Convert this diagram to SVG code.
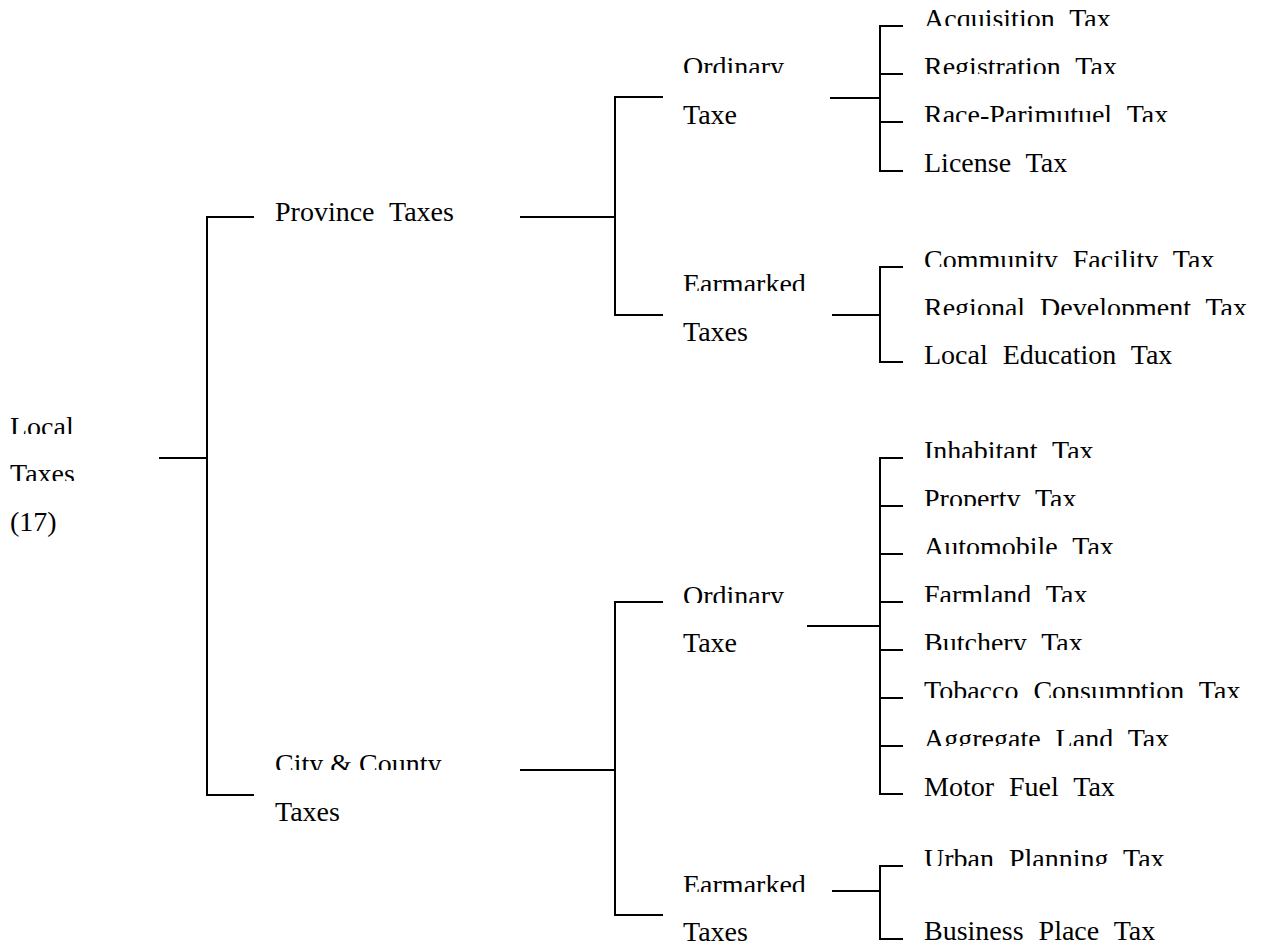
<svg xmlns="http://www.w3.org/2000/svg" width="1268" height="947" viewBox="0 0 1268 947">
<style>
text{font-family:"Liberation Serif","Times New Roman",serif;font-size:28px;fill:#000}
.w{word-spacing:8px}
.c line{stroke:#000;stroke-width:2;fill:none}
</style>
<defs>
<clipPath id="clp" clipPathUnits="userSpaceOnUse">
<rect x="0" y="408" width="150" height="26"/>
<rect x="0" y="455" width="150" height="26"/>
<rect x="265" y="745" width="240" height="25"/>
<rect x="675" y="48" width="140" height="25"/>
<rect x="675" y="265" width="140" height="26"/>
<rect x="675" y="577" width="140" height="26"/>
<rect x="675" y="867" width="140" height="25"/>
<rect x="915" y="0" width="353" height="26"/>
<rect x="915" y="48" width="353" height="26"/>
<rect x="915" y="96" width="353" height="26"/>
<rect x="915" y="241" width="353" height="26"/>
<rect x="915" y="289" width="353" height="26"/>
<rect x="915" y="432" width="353" height="26"/>
<rect x="915" y="480" width="353" height="26"/>
<rect x="915" y="528" width="353" height="26"/>
<rect x="915" y="576" width="353" height="26"/>
<rect x="915" y="624" width="353" height="26"/>
<rect x="915" y="672" width="353" height="26"/>
<rect x="915" y="720" width="353" height="26"/>
<rect x="915" y="840" width="353" height="26"/>
</clipPath>
</defs>
<g id="connectors" class="c">
<line x1="159" y1="458" x2="207" y2="458"/>
<line x1="207" y1="216" x2="207" y2="796"/>
<line x1="206" y1="217" x2="254" y2="217"/>
<line x1="206" y1="795" x2="254" y2="795"/>
<line x1="520" y1="217" x2="615" y2="217"/>
<line x1="615" y1="96" x2="615" y2="316"/>
<line x1="614" y1="97" x2="663" y2="97"/>
<line x1="614" y1="315" x2="663" y2="315"/>
<line x1="830" y1="98" x2="880" y2="98"/>
<line x1="880" y1="25" x2="880" y2="172"/>
<line x1="879" y1="26" x2="903" y2="26"/>
<line x1="879" y1="74" x2="903" y2="74"/>
<line x1="879" y1="122" x2="903" y2="122"/>
<line x1="879" y1="171" x2="903" y2="171"/>
<line x1="832" y1="315" x2="880" y2="315"/>
<line x1="880" y1="266" x2="880" y2="363"/>
<line x1="879" y1="267" x2="903" y2="267"/>
<line x1="879" y1="362" x2="903" y2="362"/>
<line x1="520" y1="770" x2="615" y2="770"/>
<line x1="615" y1="601" x2="615" y2="916"/>
<line x1="614" y1="602" x2="663" y2="602"/>
<line x1="614" y1="915" x2="663" y2="915"/>
<line x1="807" y1="626" x2="880" y2="626"/>
<line x1="880" y1="457" x2="880" y2="795"/>
<line x1="879" y1="458" x2="903" y2="458"/>
<line x1="879" y1="506" x2="903" y2="506"/>
<line x1="879" y1="554" x2="903" y2="554"/>
<line x1="879" y1="602" x2="903" y2="602"/>
<line x1="879" y1="650" x2="903" y2="650"/>
<line x1="879" y1="698" x2="903" y2="698"/>
<line x1="879" y1="746" x2="903" y2="746"/>
<line x1="879" y1="794" x2="903" y2="794"/>
<line x1="832" y1="891" x2="880" y2="891"/>
<line x1="880" y1="865" x2="880" y2="940"/>
<line x1="879" y1="866" x2="903" y2="866"/>
<line x1="879" y1="939" x2="903" y2="939"/>
</g>
<g id="node-local" >
<text x="10" y="436" clip-path="url(#clp)">Local</text>
<text x="10" y="483" clip-path="url(#clp)">Taxes</text>
<text x="10" y="531">(17)</text>
</g>
<g id="node-province">
<text class="w" x="275" y="221">Province Taxes</text>
</g>
<g id="node-city">
<text x="275" y="773" clip-path="url(#clp)">City &amp; County</text>
<text x="275" y="821">Taxes</text>
</g>
<g id="node-prov-ordinary">
<text x="683" y="76" clip-path="url(#clp)">Ordinary</text>
<text x="683" y="124">Taxe</text>
</g>
<g id="node-prov-earmarked">
<text x="683" y="293" clip-path="url(#clp)">Earmarked</text>
<text x="683" y="341">Taxes</text>
</g>
<g id="node-city-ordinary">
<text x="683" y="605" clip-path="url(#clp)">Ordinary</text>
<text x="683" y="652">Taxe</text>
</g>
<g id="node-city-earmarked">
<text x="683" y="894" clip-path="url(#clp)">Earmarked</text>
<text x="683" y="941">Taxes</text>
</g>
<g id="node-acquisition"><text class="w" x="924" y="28" clip-path="url(#clp)">Acquisition Tax</text></g>
<g id="node-registration"><text class="w" x="924" y="76" clip-path="url(#clp)">Registration Tax</text></g>
<g id="node-race"><text class="w" x="924" y="124" clip-path="url(#clp)">Race-Parimutuel Tax</text></g>
<g id="node-license"><text class="w" x="924" y="172">License Tax</text></g>
<g id="node-community"><text class="w" x="924" y="269" clip-path="url(#clp)">Community Facility Tax</text></g>
<g id="node-regional"><text class="w" x="924" y="317" clip-path="url(#clp)">Regional Development Tax</text></g>
<g id="node-education"><text class="w" x="924" y="364">Local Education Tax</text></g>
<g id="node-inhabitant"><text class="w" x="924" y="460" clip-path="url(#clp)">Inhabitant Tax</text></g>
<g id="node-property"><text class="w" x="924" y="508" clip-path="url(#clp)">Property Tax</text></g>
<g id="node-automobile"><text class="w" x="924" y="556" clip-path="url(#clp)">Automobile Tax</text></g>
<g id="node-farmland"><text class="w" x="924" y="604" clip-path="url(#clp)">Farmland Tax</text></g>
<g id="node-butchery"><text class="w" x="924" y="652" clip-path="url(#clp)">Butchery Tax</text></g>
<g id="node-tobacco"><text class="w" x="924" y="700" clip-path="url(#clp)">Tobacco Consumption Tax</text></g>
<g id="node-aggregate"><text class="w" x="924" y="748" clip-path="url(#clp)">Aggregate Land Tax</text></g>
<g id="node-motorfuel"><text class="w" x="924" y="796">Motor Fuel Tax</text></g>
<g id="node-urban"><text class="w" x="924" y="868" clip-path="url(#clp)">Urban Planning Tax</text></g>
<g id="node-business"><text class="w" x="924" y="940">Business Place Tax</text></g>
</svg>
